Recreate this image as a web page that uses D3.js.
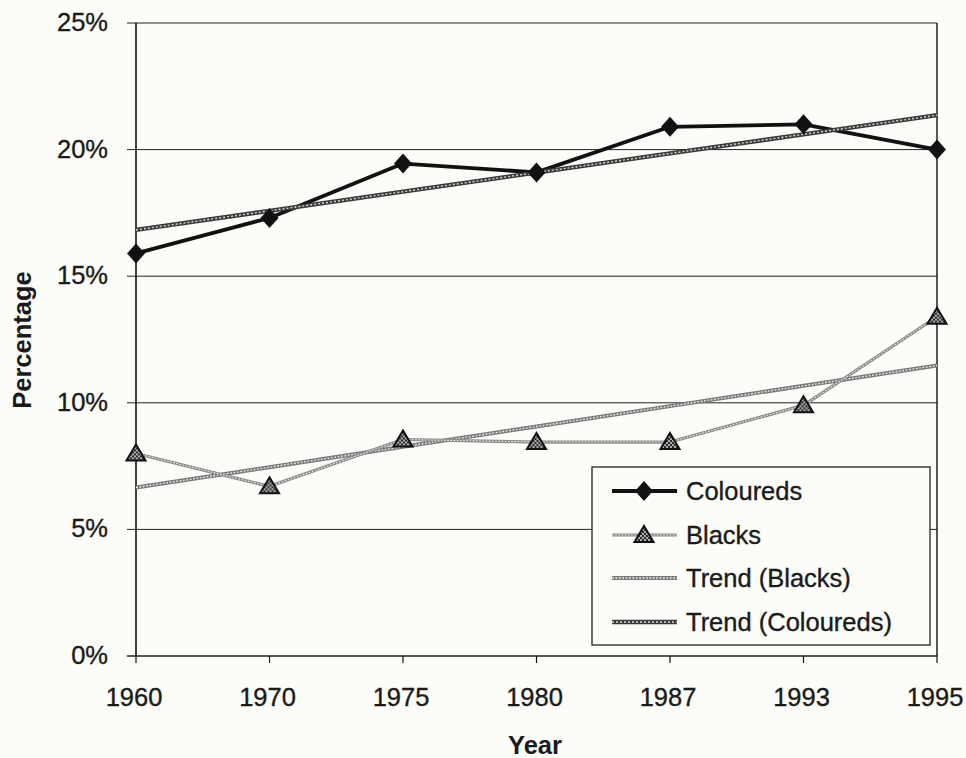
<!DOCTYPE html>
<html>
<head>
<meta charset="utf-8">
<script src="https://cdn.jsdelivr.net/npm/d3@7"></script>
<style>
  html, body { margin: 0; padding: 0; background: #fcfcf8; }
  svg { display: block; font-family: "Liberation Sans", Arial, sans-serif; }
  .lbl { stroke: #1a1a1a; stroke-width: 0.35px; }
</style>
</head>
<body>
<svg id="chart" width="966" height="758"></svg>
<script>
// Share of population, by census year
const years = ["1960", "1970", "1975", "1980", "1987", "1993", "1995"];
const coloureds = [15.9, 17.3, 19.45, 19.1, 20.9, 21.0, 20.0];
const blacks = [8.0, 6.7, 8.55, 8.45, 8.45, 9.9, 13.4];
const yTicks = [0, 5, 10, 15, 20, 25];
const legendLabels = ["Coloureds", "Blacks", "Trend (Blacks)", "Trend (Coloureds)"];

const svg = d3.select("#chart");
const plotLeft = 136, plotRight = 937, plotTop = 23, plotBottom = 656;
const fontSize = 25.5;
const ink = "#1a1a1a";

const x = d3.scalePoint().domain(years).range([plotLeft, plotRight]);
const y = d3.scaleLinear().domain([0, 25]).range([plotBottom, plotTop]);

// least-squares line over the category index (1..n)
function trend(values) {
  const xs = values.map((_, i) => i + 1);
  const mx = d3.mean(xs), my = d3.mean(values);
  const slope = d3.sum(xs, (xi, i) => (xi - mx) * (values[i] - my)) /
                d3.sum(xs, xi => (xi - mx) * (xi - mx));
  return xs.map(xi => my + slope * (xi - mx));
}

const defs = svg.append("defs");
const pat = defs.append("pattern").attr("id", "dots")
  .attr("patternUnits", "userSpaceOnUse").attr("width", 4).attr("height", 4);
pat.append("rect").attr("width", 4).attr("height", 4).attr("fill", "#2a2a2a");
pat.append("circle").attr("cx", 1).attr("cy", 1).attr("r", 0.9).attr("fill", "#eee");
pat.append("circle").attr("cx", 3).attr("cy", 3).attr("r", 0.9).attr("fill", "#eee");

// gridlines and y ticks
svg.append("g").selectAll("line").data(yTicks).join("line")
  .attr("x1", plotLeft - 9).attr("x2", plotRight)
  .attr("y1", d => y(d)).attr("y2", d => y(d))
  .attr("stroke", "#222").attr("stroke-width", d => d === 0 ? 1.6 : 1);

svg.append("g").selectAll("text").data(yTicks).join("text")
  .attr("class", "lbl")
  .attr("x", 108).attr("y", d => y(d) + 8)
  .attr("text-anchor", "end").attr("font-size", fontSize).attr("fill", ink)
  .text(d => d + "%");

// axes frame
svg.append("line").attr("x1", plotLeft).attr("x2", plotLeft).attr("y1", plotTop).attr("y2", plotBottom)
  .attr("stroke", "#111").attr("stroke-width", 1.6);
svg.append("line").attr("x1", plotRight).attr("x2", plotRight).attr("y1", plotTop).attr("y2", plotBottom)
  .attr("stroke", "#111").attr("stroke-width", 1.4);

// x ticks and labels
svg.append("g").selectAll("line").data(years).join("line")
  .attr("x1", d => x(d)).attr("x2", d => x(d))
  .attr("y1", plotBottom).attr("y2", plotBottom + 7)
  .attr("stroke", "#111").attr("stroke-width", 1.2);
svg.append("g").selectAll("text").data(years).join("text")
  .attr("class", "lbl")
  .attr("x", d => x(d) - 2).attr("y", 706)
  .attr("text-anchor", "middle").attr("font-size", fontSize).attr("fill", ink)
  .text(d => d);

// axis titles
svg.append("text").attr("x", 535).attr("y", 754).attr("text-anchor", "middle")
  .attr("font-size", fontSize).attr("font-weight", "bold").attr("fill", ink).text("Year");
svg.append("text").attr("transform", "translate(31,340) rotate(-90)")
  .attr("text-anchor", "middle").attr("font-size", fontSize).attr("font-weight", "bold")
  .attr("fill", ink).text("Percentage");

const line = d3.line().x(d => x(d.year)).y(d => y(d.v));
const toPts = vals => vals.map((v, i) => ({ year: years[i], v }));

// textured strokes
const styles = {
  blacks:  [{ c: "#8a8a8a", w: 3.2 }, { c: "#f0f0f0", w: 1.1, dash: "1.6 1.6" }],
  trendB:  [{ c: "#7a7a7a", w: 4 }, { c: "#eeeeee", w: 1.3, dash: "1.8 1.6" }],
  trendC:  [{ c: "#3a3a3a", w: 4.4 }, { c: "#d8d8d8", w: 1.4, dash: "2 2" }],
  col:     [{ c: "#111", w: 3.8 }]
};
function strokeLayers(g, pathD, layers) {
  layers.forEach(s => {
    g.append("path").attr("d", pathD).attr("fill", "none")
      .attr("stroke", s.c).attr("stroke-width", s.w)
      .attr("stroke-dasharray", s.dash || null)
      .attr("stroke-linejoin", "round");
  });
}

const plot = svg.append("g");
strokeLayers(plot, line(toPts(trend(blacks))), styles.trendB);
strokeLayers(plot, line(toPts(blacks)), styles.blacks);
strokeLayers(plot, line(toPts(coloureds)), styles.col);
strokeLayers(plot, line(toPts(trend(coloureds))), styles.trendC);

const diamond = "M0,-10 L9,0 L0,10 L-9,0 Z";
const triangle = "M0,-9 L9.5,7 L-9.5,7 Z";

plot.append("g").selectAll("path").data(toPts(blacks)).join("path")
  .attr("transform", d => `translate(${x(d.year)},${y(d.v)})`)
  .attr("d", triangle).attr("fill", "url(#dots)")
  .attr("stroke", "#111").attr("stroke-width", 2).attr("stroke-linejoin", "miter");

plot.append("g").selectAll("path").data(toPts(coloureds)).join("path")
  .attr("transform", d => `translate(${x(d.year)},${y(d.v)})`)
  .attr("d", diamond).attr("fill", "#111");

// legend
const lg = svg.append("g");
lg.append("rect").attr("x", 592).attr("y", 467).attr("width", 338).attr("height", 178)
  .attr("fill", "#fcfcf8").attr("stroke", "#222").attr("stroke-width", 1.3);
const rowY = [491, 535, 578, 622];
const rowStyles = [styles.col, styles.blacks, styles.trendB, styles.trendC];
legendLabels.forEach((lab, i) => {
  const g = lg.append("g");
  strokeLayers(g, `M612,${rowY[i]}H677`, rowStyles[i]);
  if (i === 0) g.append("path").attr("transform", `translate(644,${rowY[i]})`)
    .attr("d", diamond).attr("fill", "#111");
  if (i === 1) g.append("path").attr("transform", `translate(644,${rowY[i]})`)
    .attr("d", triangle).attr("fill", "url(#dots)")
    .attr("stroke", "#111").attr("stroke-width", 2);
  g.append("text").attr("class", "lbl").attr("x", 686).attr("y", rowY[i] + 8.5)
    .attr("font-size", fontSize).attr("fill", ink).text(lab);
});
</script>
</body>
</html>
